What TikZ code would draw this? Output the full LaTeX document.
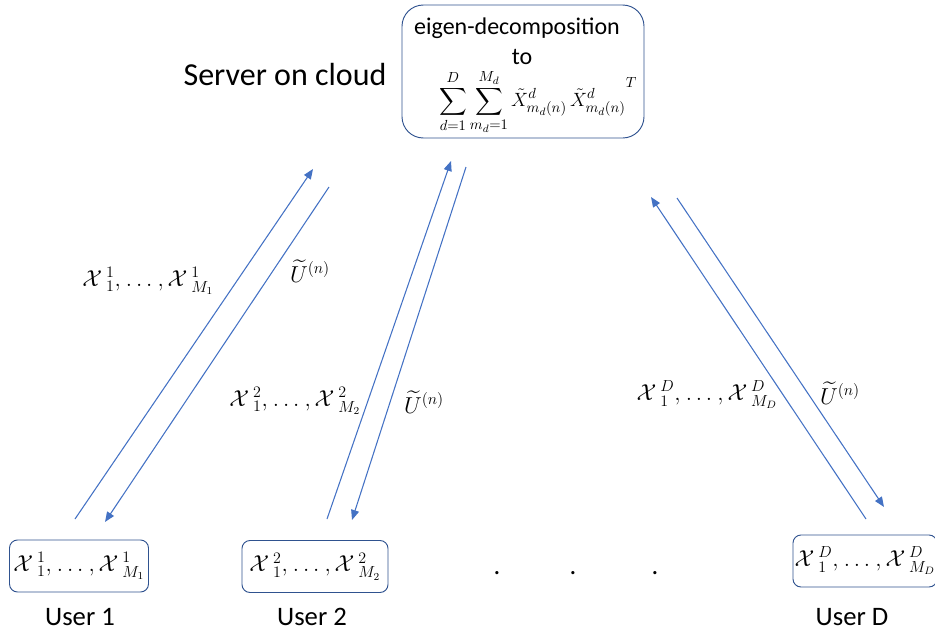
\documentclass[tikz,border=0pt]{standalone}
\usepackage{amsmath}
\usepackage{fontspec}
\setmainfont{Carlito}
\usetikzlibrary{arrows.meta}
\definecolor{arrowblue}{RGB}{68,114,196}
\definecolor{boxline}{RGB}{47,82,143}
\newcommand{\tx}{\mathcal{X}}
\newcommand{\seq}[3]{\tx\,{}^{#1}_{1},\mkern1mu\ldots\mkern1mu,\tx\,{}^{#1}_{#2_{#3}}}

\begin{document}
\begin{tikzpicture}[x=0.75pt,y=-0.75pt,
  flow/.style={draw=arrowblue, line width=0.8pt, -{Triangle[length=7.5pt,width=6pt]}},
  userbox/.style={draw=boxline, line width=0.7pt, rounded corners=6pt, inner sep=0pt,
    minimum height=39pt, font=\fontsize{17}{20}\selectfont},
  mathlabel/.style={inner sep=0pt, font=\fontsize{17}{20}\selectfont},
  caption/.style={inner sep=0pt, font=\fontsize{20}{24}\selectfont},
  dotmark/.style={inner sep=0pt, anchor=base, font=\fontsize{20}{24}\selectfont}]
\useasboundingbox (0,0) rectangle (935,632);

% server
\node[draw=boxline, line width=0.7pt, rounded corners=16pt,
  minimum width=181.5pt, minimum height=99.75pt] (server) at (523,71.5) {};
\node[inner sep=0pt, font=\fontsize{18}{22}\selectfont] (eig) at (517,28) {eigen-decomposition};
\node[inner sep=0pt, font=\fontsize{18}{22}\selectfont] (to) at (522,57) {to};
\node[inner sep=0pt, font=\fontsize{15.5}{18}\selectfont] (formula) at (538,102)
  {$\displaystyle\sum_{d=1}^{D}\sum_{m_d=1}^{M_d}\tilde{X}^{d}_{m_d(n)}\,\tilde{X}^{d}_{m_d(n)}{}^{\raisebox{1.1ex}{$\scriptstyle T$}}$};
\node[inner sep=0pt, font=\fontsize{24}{28}\selectfont] (cloud) at (285,75) {Server on cloud};

% users
\node[userbox, minimum width=104.25pt] (u1) at (79,566) {$\seq{1}{M}{1}$};
\node[userbox, minimum width=109.5pt] (u2) at (315,566.5) {$\seq{2}{M}{2}$};
\node[userbox, minimum width=108pt] (uD) at (865,561) {$\seq{D}{M}{D}$};
\node[caption] (l1) at (80,617) {User 1};
\node[caption] (l2) at (312,617) {User 2};
\node[caption] (lD) at (852,617) {User D};
\node[dotmark] (d1) at (497,574) {.};
\node[dotmark] (d2) at (573,574) {.};
\node[dotmark] (d3) at (655,574) {.};

% arrow end points
\coordinate (a1s) at (75,519);   \coordinate (a1e) at (313,169);
\coordinate (b1s) at (329,187);  \coordinate (b1e) at (105,522);
\coordinate (a2s) at (327,519);  \coordinate (a2e) at (451,161);
\coordinate (b2s) at (466,167);  \coordinate (b2e) at (352,520);
\coordinate (aDs) at (866,519);  \coordinate (aDe) at (651,197);
\coordinate (bDs) at (677,198);  \coordinate (bDe) at (884,507);

\draw[flow] (a1s) -- (a1e);
\draw[flow] (b1s) -- (b1e);
\draw[flow] (a2s) -- (a2e);
\draw[flow] (b2s) -- (b2e);
\draw[flow] (aDs) -- (aDe);
\draw[flow] (bDs) -- (bDe);

% transferred data labels
\node[mathlabel] (x1) at (148,281) {$\seq{1}{M}{1}$};
\node[mathlabel] (x2) at (295,401) {$\seq{2}{M}{2}$};
\node[mathlabel] (xD) at (707,395) {$\seq{D}{M}{D}$};
\node[mathlabel] (w1) at (310,271) {$\widetilde{U}^{(n)}$};
\node[mathlabel] (w2) at (424,402) {$\widetilde{U}^{(n)}$};
\node[mathlabel] (wD) at (840,393) {$\widetilde{U}^{(n)}$};
\end{tikzpicture}
\end{document}
